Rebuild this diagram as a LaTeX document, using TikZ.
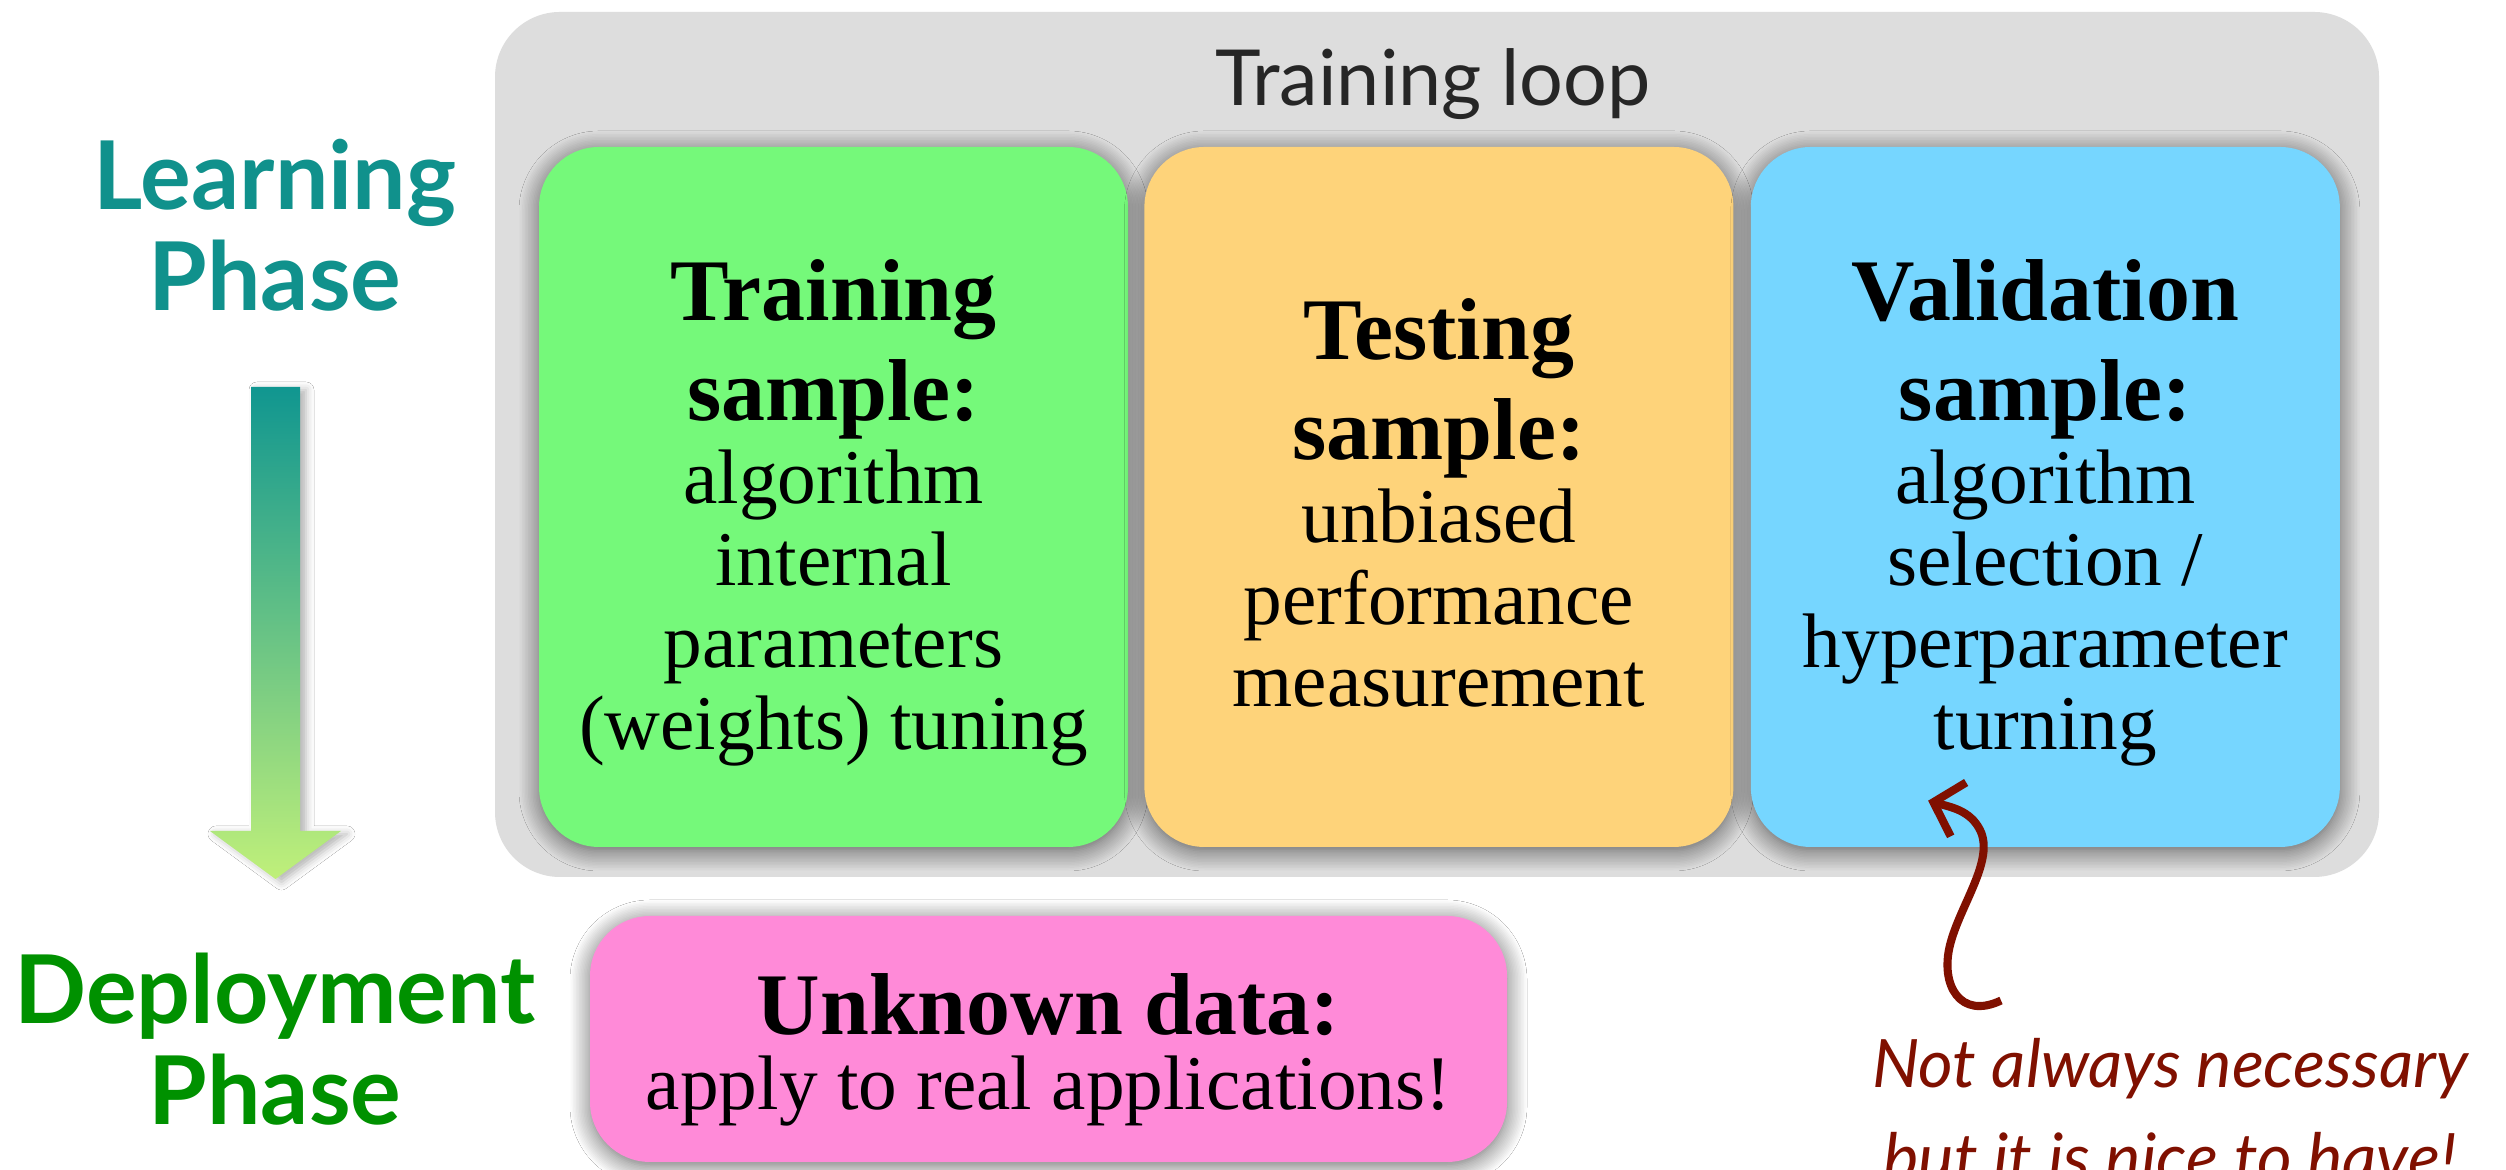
\documentclass[tikz,border=0pt]{standalone}
\usepackage{fontspec}
\setmainfont{Liberation Serif}
\newfontfamily\gillfont{Lato}
\usepackage{tikz}
\usetikzlibrary{positioning,arrows.meta,calc,shadows.blur}
\definecolor{loopgray}{RGB}{221,221,221}
\definecolor{traingreen}{RGB}{117,249,122}
\definecolor{testorange}{RGB}{254,211,122}
\definecolor{validblue}{RGB}{118,214,255}
\definecolor{unknownpink}{RGB}{255,138,216}
\definecolor{learnteal}{RGB}{16,145,140}
\definecolor{deploygreen}{RGB}{0,145,0}
\definecolor{arrowtop}{RGB}{16,150,144}
\definecolor{arrowbottom}{RGB}{192,240,122}
\definecolor{notered}{RGB}{128,16,0}

\newcommand{\samplehead}[1]{{\bfseries\fontsize{25}{24}\selectfont #1}}

\tikzset{
  loopbox/.style={fill=loopgray, rounded corners=0.65cm, minimum width=18.84cm, minimum height=8.65cm, inner sep=0pt},
  looptitle/.style={font=\gillfont\fontsize{22}{24}\selectfont, text=black!85, inner sep=0pt},
  samplebox/.style={rounded corners=0.6cm, minimum width=5.89cm, minimum height=7.0cm, inner sep=0pt,
    blur shadow={shadow xshift=0mm, shadow yshift=-0.4mm, shadow blur radius=2mm, shadow blur steps=14, shadow opacity=60}},
  sampletext/.style={align=center, inner sep=0pt, font=\fontsize{22}{23.3}\selectfont},
  phase/.style={font=\gillfont\bfseries\fontsize{27}{28.6}\selectfont, align=center, inner sep=0pt},
  note/.style={font=\gillfont\itshape\fontsize{19}{26.7}\selectfont, text=notered, align=center, inner sep=0pt},
  curl/.style={draw=notered, line width=2.3pt, -{Straight Barb[length=2.6mm,width=5.6mm]}}
}

\begin{document}
\begin{tikzpicture}
\useasboundingbox (0,0) rectangle (25.06,11.70);
\fill[white] (0,0) rectangle (25.06,11.70);

% phases on the left
\node[phase, text=learnteal] (learn) at (2.75,9.45) {Learning\\Phase};
\node[phase, text=deploygreen] (deploy) at (2.75,1.31) {Deployment\\Phase};

% shaded arrow from learning to deployment
\shade[top color=arrowtop, bottom color=arrowbottom,
  blur shadow={shadow xshift=0.6mm, shadow yshift=-0.3mm, shadow blur radius=0.8mm, shadow opacity=30}]
  (2.51,7.83) -- (3.00,7.83) -- (3.00,3.39) -- (3.41,3.39) -- (2.755,2.91) -- (2.10,3.39) -- (2.51,3.39) -- cycle;

% training loop
\node[loopbox] (loop) at (14.37,7.255) {};
\node[looptitle] (looptext) at ($(loop.north)+(-0.04,-0.73)$) {Training loop};

\node[samplebox, fill=traingreen] (train) at (8.335,6.73) {};
\node[samplebox, fill=testorange, right=0.15cm of train] (test) {};
\node[samplebox, fill=validblue, right=0.16cm of test] (valid) {};

\node[sampletext] (traintext) at ($(train)+(0,-0.16)$)
  {\samplehead{Training}\\[5pt]\samplehead{sample:}\\[0.5pt]algorithm\\internal\\parameters\\(weights) tuning};
\node[sampletext] (testtext) at ($(test)+(0,-0.06)$)
  {\samplehead{Testing}\\[5pt]\samplehead{sample:}\\[0.5pt]unbiased\\performance\\measurement};
\node[sampletext] (validtext) at ($(valid)+(0,-0.16)$)
  {\samplehead{Validation}\\[5pt]\samplehead{sample:}\\[0.5pt]algorithm\\selection /\\hyperparameter\\turning};

% unknown data
\node[samplebox, fill=unknownpink, minimum width=9.17cm, minimum height=2.46cm] (unknown) at (10.485,1.31) {};
\node[sampletext] (unknowntext) at ($(unknown)+(0,-0.11)$)
  {\samplehead{Unknown data:}\\[-2pt]apply to real applications!};

% remark on the validation sample
\node[note] (note) at (21.70,0.60) {Not always necessary\\but it is nice to have!};
\coordinate (curltail) at ($(note.north)+(-1.69,0.37)$);
\draw[curl] (curltail) .. controls (19.6,1.50) and (19.40,1.85) .. (19.50,2.25)
  .. controls (19.60,2.65) and (19.95,3.10) .. (19.80,3.40)
  .. controls (19.70,3.60) and (19.50,3.63) .. ($(valid.south west)+(1.78,0.47)$);
\end{tikzpicture}
\end{document}
